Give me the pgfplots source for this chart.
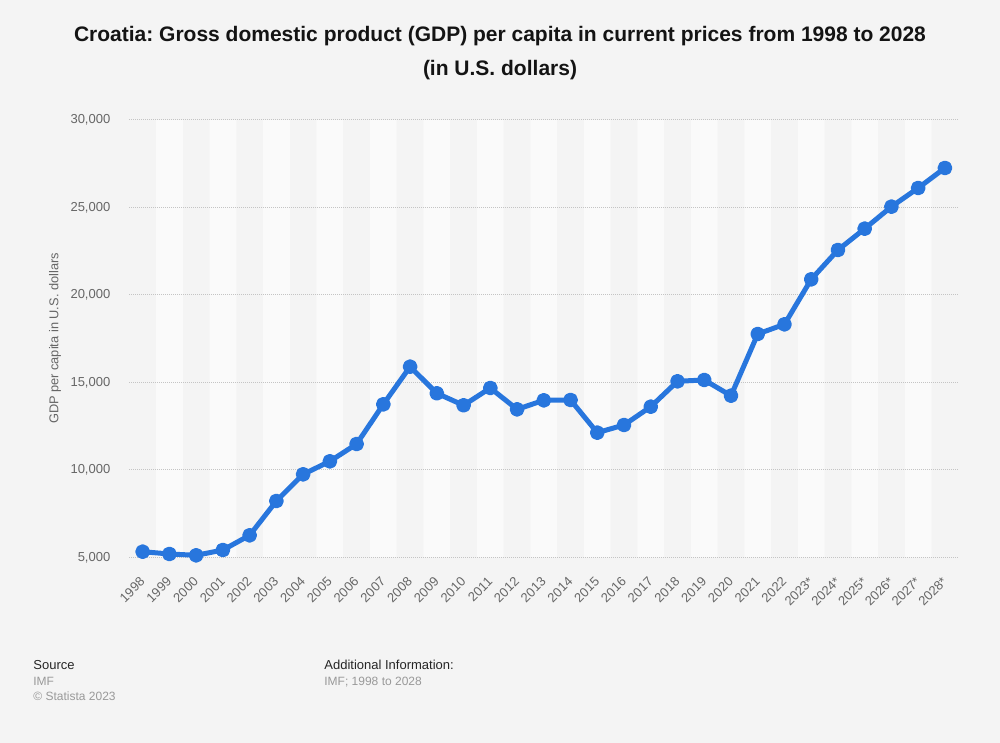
\documentclass[border=0pt]{standalone}
\usepackage{fontspec}
\setmainfont{Liberation Sans}
\usepackage{xcolor}
\usepackage{pgfplots}
\pgfplotsset{compat=1.18}
\definecolor{bg}{HTML}{F4F4F4}
\definecolor{band}{HTML}{FAFAFA}
\definecolor{lineblue}{HTML}{2876DD}
\definecolor{tickc}{HTML}{666666}
\definecolor{foot}{HTML}{999999}
\definecolor{gridc}{HTML}{C4C4C4}
\pagecolor{bg}
\frenchspacing
\begin{document}
\begin{tikzpicture}
\path (0,0) rectangle (500pt,371.5pt);
\begin{axis}[
  at={(64.65pt,92.85pt)}, anchor=south west,
  scale only axis, width=414.5pt, height=218.65pt,
  xmin=-0.5, xmax=30.5, ymin=5000, ymax=30000,
  set layers,
  axis line style={draw=none},
  tick style={draw=none},
  ytick={5000,10000,15000,20000,25000,30000},
  xtick={0,...,30},
  xticklabels={1998,1999,2000,2001,2002,2003,2004,2005,2006,2007,2008,2009,2010,2011,2012,2013,2014,2015,2016,2017,2018,2019,2020,2021,2022,2023*,2024*,2025*,2026*,2027*,2028*},
  ymajorgrids,
  grid style={gridc, line width=0.5pt, dash pattern=on 0.5pt off 0.5pt},
  scaled y ticks=false,
  ticklabel style={font=\fontsize{6.5}{7}\selectfont, text=tickc},
  yticklabel style={/pgf/number format/1000 sep={,}, /pgf/number format/assume math mode=true, inner sep=0pt},
  yticklabel shift=9.3pt,
  xticklabel style={rotate=45, anchor=east, inner sep=0pt},
  xticklabel shift=11pt,
]
\addplot[ybar, bar width=1, fill=band, draw=none, on layer=axis background, forget plot]
  coordinates {(1,30000)(3,30000)(5,30000)(7,30000)(9,30000)(11,30000)(13,30000)(15,30000)(17,30000)(19,30000)(21,30000)(23,30000)(25,30000)(27,30000)(29,30000)};
\addplot[lineblue, line width=2.5pt, line join=round, mark=*, mark size=2.45pt, mark options={solid, fill=lineblue, draw=none}]
  coordinates {
  (0,5320)(1,5189)(2,5114)(3,5417)(4,6258)(5,8219)(6,9745)(7,10488)(8,11477)(9,13747)
  (10,15897)(11,14376)(12,13690)(13,14679)(14,13460)(15,13975)(16,13993)(17,12125)(18,12564)(19,13610)
  (20,15062)(21,15137)(22,14239)(23,17766)(24,18320)(25,20893)(26,22569)(27,23787)(28,25045)(29,26113)(30,27257)};
\end{axis}
\node[anchor=base, font=\fontsize{10.5}{12}\bfseries, text=black!92] at (250pt,350.65pt) {Croatia: Gross domestic product (GDP) per capita in current prices from 1998 to 2028};
\node[anchor=base, font=\fontsize{10.5}{12}\bfseries, text=black!92] at (250pt,333.5pt) {(in U.S. dollars)};
\node[rotate=90, font=\fontsize{6.4}{7}\selectfont, text=tickc] at (27.5pt,202.25pt) {GDP per capita in U.S. dollars};
\node[anchor=base west, inner sep=0pt, font=\fontsize{6.5}{7}\selectfont, text=black!85] at (16.5pt,36.5pt) {Source};
\node[anchor=base west, inner sep=0pt, font=\fontsize{6}{7}\selectfont, text=foot] at (16.5pt,28.5pt) {IMF};
\node[anchor=base west, inner sep=0pt, font=\fontsize{6}{7}\selectfont, text=foot] at (16.5pt,21pt) {© Statista 2023};
\node[anchor=base west, inner sep=0pt, font=\fontsize{6.5}{7}\selectfont, text=black!85] at (162pt,36.5pt) {Additional Information:};
\node[anchor=base west, inner sep=0pt, font=\fontsize{6}{7}\selectfont, text=foot] at (162pt,28.5pt) {IMF; 1998 to 2028};
\end{tikzpicture}
\end{document}
